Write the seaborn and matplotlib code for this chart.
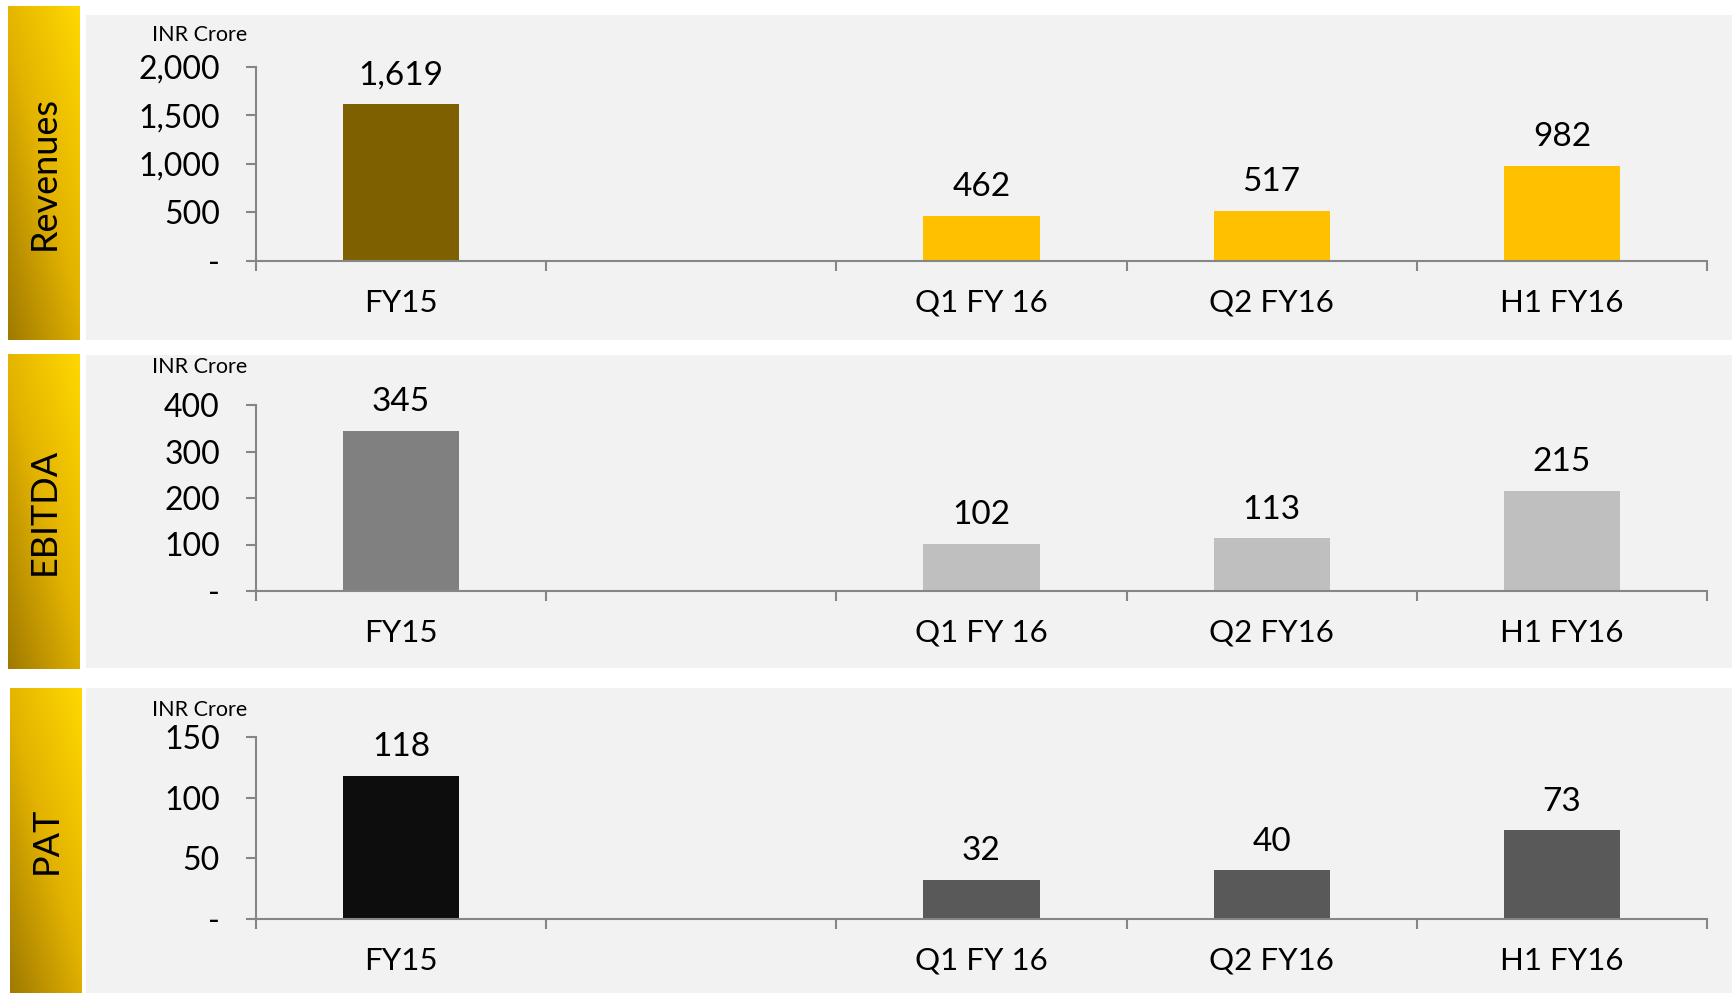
import matplotlib
matplotlib.use("Agg")
import matplotlib.pyplot as plt
from matplotlib.colors import LinearSegmentedColormap
from matplotlib.patches import Rectangle
from matplotlib.ticker import FuncFormatter, FixedLocator
import numpy as np
import pandas as pd
import seaborn as sns

# data
periods = ["FY15", "Q1 FY 16", "Q2 FY16", "H1 FY16"]
slots = ["FY15", "", "Q1 FY 16", "Q2 FY16", "H1 FY16"]
revenues = [1619, 462, 517, 982]
ebitda = [345, 102, 113, 215]
pat = [118, 32, 40, 73]
titles = ["Revenues", "EBITDA", "PAT"]
y_ticks = [[0, 500, 1000, 1500, 2000], [0, 100, 200, 300, 400], [0, 50, 100, 150]]
palettes = [
    ["#7F6000", "#FFC000", "#FFC000", "#FFC000"],
    ["#808080", "#BFBFBF", "#BFBFBF", "#BFBFBF"],
    ["#0D0D0D", "#595959", "#595959", "#595959"],
]
values = [revenues, ebitda, pat]

sns.set_theme(style="white")
plt.rcParams["font.family"] = ["Lato", "DejaVu Sans"]

W, H = 1732, 993
fig = plt.figure(figsize=(W / 100, H / 100), dpi=100, facecolor="white")


def fx(px):
    return px / W


def fy(py):
    return 1 - py / H


# pixel layout of each block: band (x0,x1,y0,y1), gray (y0,y1), axes (top,bottom), label top
blocks = [
    dict(band=(8, 80, 6, 340), gray=(15, 340), ax=(67, 261), unit=25),
    dict(band=(8, 80, 354, 669), gray=(355, 668), ax=(405, 591), unit=357),
    dict(band=(10, 82, 688, 993), gray=(688, 993), ax=(737, 919), unit=700),
]

gold = LinearSegmentedColormap.from_list("gold", ["#A07A00", "#E2B200", "#FFD800"])
gx, gy = np.meshgrid(np.linspace(0, 1, 60), np.linspace(0, 1, 200))
grad = gx * 0.45 + gy * 0.55

axis_col = "#868686"
x_left, x_right = 256, 1707

for i, b in enumerate(blocks):
    # gray panel background
    g0, g1 = b["gray"]
    fig.patches.append(Rectangle((fx(86), fy(g1)), fx(W - 86), (g1 - g0) / H,
                                 transform=fig.transFigure, facecolor="#F2F2F2",
                                 edgecolor="none", zorder=-5))
    # gold band with gradient
    x0, x1, y0, y1 = b["band"]
    bax = fig.add_axes([fx(x0), fy(y1), fx(x1 - x0), (y1 - y0) / H])
    bax.imshow(grad, cmap=gold, aspect="auto", origin="lower", extent=(0, 1, 0, 1))
    bax.set_axis_off()
    bax.text(0.5, 0.5, titles[i], rotation=90, ha="center", va="center",
             fontsize=26, color="black", transform=bax.transAxes)

    # chart axes
    top, bot = b["ax"]
    ax = fig.add_axes([fx(x_left), fy(bot), fx(x_right - x_left), (bot - top) / H])
    ax.patch.set_alpha(0)
    df = pd.DataFrame({"period": periods, "value": values[i]})
    sns.barplot(data=df, x="period", y="value", hue="period", order=slots,
                hue_order=periods, palette=palettes[i], width=0.4, legend=False,
                saturation=1, linewidth=0, ax=ax)
    for c in ax.containers:
        ax.bar_label(c, labels=[f"{v:,.0f}" for v in c.datavalues],
                     padding=10, fontsize=24, color="black")

    ax.set_xlim(-0.5, 4.5)
    ax.set_ylim(0, y_ticks[i][-1])
    ax.set_yticks(y_ticks[i])
    ax.yaxis.set_major_formatter(FuncFormatter(lambda v, p: "-" if v == 0 else f"{v:,.0f}"))
    ax.xaxis.set_minor_locator(FixedLocator(np.arange(-0.5, 5, 1)))
    ax.tick_params(axis="x", which="major", bottom=True, length=0, pad=20,
                   labelsize=22.5, labelcolor="black")
    ax.tick_params(axis="x", which="minor", bottom=True, length=7, width=1.5,
                   color=axis_col, direction="out")
    ax.tick_params(axis="y", left=True, length=7, width=1.5, color=axis_col,
                   direction="out", pad=19, labelsize=23, labelcolor="black")
    ax.set_xlabel("")
    ax.set_ylabel("")
    for s in ["top", "right"]:
        ax.spines[s].set_visible(False)
    for s in ["left", "bottom"]:
        ax.spines[s].set_color(axis_col)
        ax.spines[s].set_linewidth(1.5)

    fig.text(fx(200), fy(b["unit"]), "INR Crore", ha="center", va="top",
             fontsize=15.5, color="black")

fig.savefig("out.png", dpi=100, facecolor="white")
